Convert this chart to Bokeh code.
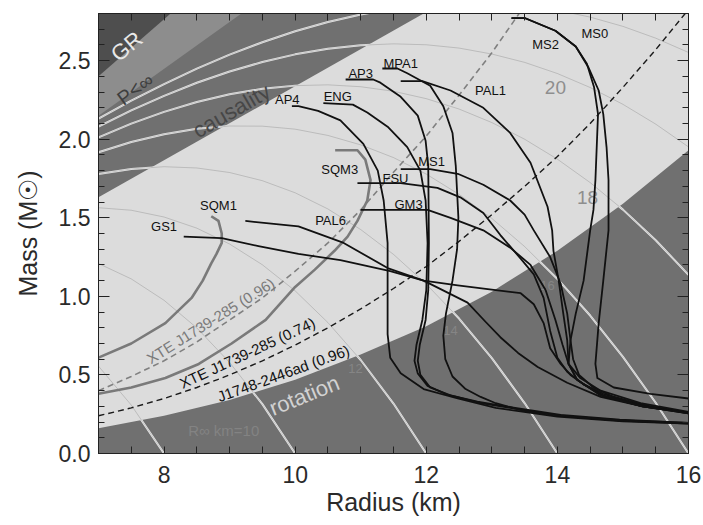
import numpy as np
from bokeh.plotting import figure
from bokeh.models import LinearAxis, FixedTicker, PrintfTickFormatter
from bokeh.embed import file_html
from bokeh.resources import INLINE
from bokeh.core.properties import value

# ---------------- data ----------------
x_major = [8, 10, 12, 14, 16]
y_major = [0.0, 0.5, 1.0, 1.5, 2.0, 2.5]

# region boundaries (R in km, M in Msun)
gr_R = [7.0, 8.1];    gr_M = [2.40, 2.80]
pinf_R = [7.0, 9.18]; pinf_M = [2.15, 2.80]
caus_R = [7.0, 11.96]; caus_M = [1.63, 2.80]
rot_R = [7, 8, 9, 10, 11, 12, 13, 14, 15, 16]
rot_M = [0.16, 0.24, 0.34, 0.47, 0.63, 0.81, 1.03, 1.29, 1.59, 1.93]

# mass-shedding lines
xte96_R = [7.0, 7.5, 8.0, 8.5, 9.0, 9.5, 10.0, 10.5, 11.0, 11.5, 12.0, 12.5, 13.0, 13.45]
xte96_M = [0.40, 0.49, 0.59, 0.71, 0.85, 0.99, 1.16, 1.34, 1.55, 1.79, 2.02, 2.28, 2.55, 2.82]
xte74_R = [7.0, 7.5, 8.0, 8.5, 9.0, 9.5, 10.0, 10.5, 11.0, 11.5, 12.0, 12.5, 13.0, 13.5, 14.0, 14.5, 15.0, 15.5, 15.95]
xte74_M = [0.24, 0.29, 0.35, 0.42, 0.50, 0.59, 0.69, 0.80, 0.92, 1.05, 1.19, 1.35, 1.52, 1.70, 1.89, 2.10, 2.33, 2.57, 2.80]

# constant R_inf contours
rinf_grid = [7.0, 7.5, 8.0, 8.5, 9.0, 9.5, 10.0, 10.5, 11.0, 11.5, 12.0, 12.5, 13.0, 13.5, 14.0, 14.5, 15.0, 15.5, 16.0]
rinf_8 = [0.556, 0.308, 0.0]
rinf_10 = [1.209, 1.111, 0.975, 0.799, 0.579, 0.314, 0.0]
rinf_12 = [1.564, 1.548, 1.505, 1.434, 1.333, 1.201, 1.035, 0.833, 0.595, 0.318, 0.0]
rinf_14 = [1.778, 1.811, 1.825, 1.817, 1.788, 1.736, 1.659, 1.556, 1.425, 1.267, 1.078, 0.859, 0.607, 0.321, 0.0]
rinf_16 = [1.917, 1.982, 2.032, 2.066, 2.084, 2.083, 2.064, 2.024, 1.964, 1.883, 1.778, 1.649, 1.496, 1.317, 1.111, 0.878, 0.615, 0.323, 0.0]
rinf_18 = [2.012, 2.099, 2.174, 2.237, 2.286, 2.321, 2.341, 2.346, 2.334, 2.305, 2.258, 2.192, 2.106, 2.000, 1.873, 1.724, 1.552, 1.357, 1.137]
rinf_20 = [2.080, 2.183, 2.276, 2.359, 2.431, 2.491, 2.540, 2.576, 2.598, 2.607, 2.601, 2.580, 2.542, 2.489, 2.418, 2.329, 2.222, 2.096, 1.951]
rinf_22 = [2.131, 2.245, 2.351, 2.449, 2.538, 2.617, 2.687, 2.746, 2.794, 2.830, 2.855, 2.867, 2.865, 2.850, 2.821, 2.777, 2.718, 2.643, 2.552]
rinf_curves = [rinf_8, rinf_10, rinf_12, rinf_14, rinf_16, rinf_18, rinf_20, rinf_22]

# equations of state
GS1_R = [8.30, 8.88, 9.44, 10.05, 10.69, 11.45, 11.96, 12.48, 13.06, 13.44, 13.64, 13.79, 13.89, 14.05, 14.20, 14.40, 14.70, 15.30, 16.00]
GS1_M = [1.38, 1.37, 1.32, 1.27, 1.23, 1.16, 1.10, 1.07, 1.04, 1.02, 0.95, 0.83, 0.67, 0.57, 0.50, 0.44, 0.38, 0.31, 0.255]
PAL6_R = [9.24, 10.05, 10.74, 11.41, 11.96, 12.63, 12.90, 13.13, 13.40, 13.70, 14.15, 14.66, 15.30, 16.00]
PAL6_M = [1.48, 1.445, 1.34, 1.18, 1.10, 0.96, 0.84, 0.74, 0.64, 0.55, 0.45, 0.36, 0.30, 0.26]
AP4_R = [9.95, 10.05, 10.35, 10.69, 11.04, 11.26, 11.35, 11.41, 11.41, 11.45, 11.61, 11.96, 12.48, 13.06, 14.00, 15.00, 16.00]
AP4_M = [2.21, 2.21, 2.18, 2.12, 1.97, 1.80, 1.61, 1.34, 0.76, 0.61, 0.51, 0.41, 0.35, 0.29, 0.235, 0.205, 0.19]
ENG_R = [10.43, 10.88, 11.10, 11.41, 11.71, 11.91, 11.99, 12.02, 12.00, 11.94, 11.85, 11.82, 11.87, 12.02, 12.32, 12.78, 13.28, 14.05, 14.95, 16.00]
ENG_M = [2.23, 2.22, 2.17, 2.08, 1.95, 1.80, 1.61, 1.34, 1.04, 0.85, 0.69, 0.59, 0.51, 0.43, 0.375, 0.33, 0.295, 0.245, 0.215, 0.195]
AP3_R = [10.77, 11.19, 11.30, 11.61, 11.87, 11.99, 12.03, 12.04, 12.03, 11.99, 11.90, 11.87, 11.91, 12.06, 12.37, 12.83, 13.28, 14.05, 14.95, 16.00]
AP3_M = [2.38, 2.38, 2.36, 2.27, 2.15, 1.99, 1.83, 1.34, 1.04, 0.85, 0.69, 0.59, 0.50, 0.42, 0.37, 0.32, 0.29, 0.24, 0.21, 0.19]
MPA1_R = [11.33, 11.56, 11.71, 12.06, 12.26, 12.40, 12.45, 12.49, 12.47, 12.40, 12.30, 12.26, 12.29, 12.40, 12.60, 12.83, 13.06, 13.50, 14.20, 15.00, 16.00]
MPA1_M = [2.45, 2.45, 2.42, 2.34, 2.21, 2.04, 1.83, 1.50, 1.30, 1.10, 0.89, 0.75, 0.60, 0.49, 0.41, 0.36, 0.32, 0.27, 0.235, 0.21, 0.195]
PAL1_R = [11.61, 11.94, 12.37, 12.87, 13.28, 13.59, 13.85, 13.92, 13.94, 14.02, 14.09, 14.15, 14.17, 14.30, 14.66, 15.30, 16.00]
PAL1_M = [2.37, 2.37, 2.31, 2.20, 2.04, 1.85, 1.57, 1.42, 1.29, 1.10, 0.89, 0.72, 0.57, 0.47, 0.37, 0.30, 0.255]
MS1_R = [11.61, 12.06, 12.48, 12.87, 13.28, 13.50, 13.64, 13.89, 14.05, 14.15, 14.20, 14.24, 14.33, 14.55, 14.85, 15.40, 16.00]
MS1_M = [1.81, 1.81, 1.78, 1.71, 1.61, 1.52, 1.42, 1.25, 1.08, 0.89, 0.72, 0.60, 0.50, 0.42, 0.36, 0.30, 0.26]
FSU_R = [10.95, 11.61, 12.17, 12.52, 12.87, 13.13, 13.44, 13.64, 13.79, 13.89, 14.00, 14.15, 14.40, 14.70, 15.30, 16.00]
FSU_M = [1.72, 1.72, 1.69, 1.63, 1.53, 1.39, 1.24, 1.14, 0.99, 0.78, 0.61, 0.52, 0.44, 0.37, 0.30, 0.26]
GM3_R = [11.00, 11.45, 12.02, 12.37, 12.87, 13.28, 13.59, 13.82, 13.97, 14.08, 14.17, 14.35, 14.66, 15.27, 16.00]
GM3_M = [1.55, 1.55, 1.55, 1.50, 1.42, 1.31, 1.20, 1.04, 0.85, 0.69, 0.57, 0.48, 0.40, 0.32, 0.265]
MS2_R = [13.30, 13.51, 13.97, 14.28, 14.45, 14.56, 14.62, 14.60, 14.58, 14.55, 14.50, 14.40, 14.28, 14.20, 14.17, 14.30, 14.66, 15.30, 16.00]
MS2_M = [2.77, 2.77, 2.69, 2.59, 2.48, 2.33, 2.16, 1.95, 1.74, 1.55, 1.42, 1.10, 0.89, 0.72, 0.57, 0.47, 0.37, 0.30, 0.255]
MS0_R = [13.30, 13.51, 13.97, 14.28, 14.47, 14.63, 14.70, 14.75, 14.78, 14.78, 14.70, 14.63, 14.58, 14.61, 14.86, 15.42, 16.00]
MS0_M = [2.77, 2.77, 2.69, 2.59, 2.46, 2.31, 2.16, 1.95, 1.74, 1.42, 1.10, 0.83, 0.57, 0.48, 0.42, 0.38, 0.35]
SQM1_R = [8.72, 8.83, 8.88, 8.88, 8.80, 8.72, 8.59, 8.42, 8.02, 7.50, 7.00]
SQM1_M = [1.51, 1.48, 1.40, 1.34, 1.27, 1.21, 1.10, 0.99, 0.83, 0.70, 0.61]
SQM3_R = [10.61, 10.95, 11.07, 11.15, 11.10, 10.95, 10.80, 10.60, 10.30, 10.00, 9.55, 9.03, 8.53, 8.02, 7.50, 7.00]
SQM3_M = [1.93, 1.93, 1.87, 1.74, 1.61, 1.48, 1.38, 1.29, 1.17, 1.06, 0.85, 0.70, 0.57, 0.48, 0.42, 0.38]

eos_black = [(GS1_R, GS1_M), (PAL6_R, PAL6_M), (AP4_R, AP4_M), (ENG_R, ENG_M), (AP3_R, AP3_M),
             (MPA1_R, MPA1_M), (PAL1_R, PAL1_M), (MS1_R, MS1_M), (FSU_R, FSU_M), (GM3_R, GM3_M),
             (MS2_R, MS2_M), (MS0_R, MS0_M)]
eos_gray = [(SQM1_R, SQM1_M), (SQM3_R, SQM3_M)]

eos_labels = ["GS1", "SQM1", "PAL6", "AP4", "ENG", "AP3", "MPA1", "PAL1", "MS2", "MS0", "MS1", "FSU", "GM3", "SQM3"]
eos_label_R = [8.00, 8.83, 10.54, 9.88, 10.65, 11.00, 11.61, 12.98, 13.82, 14.57, 12.08, 11.53, 11.73, 10.68]
eos_label_M = [1.445, 1.58, 1.48, 2.25, 2.27, 2.42, 2.48, 2.31, 2.60, 2.67, 1.86, 1.75, 1.585, 1.81]

# ---------------- figure ----------------
FONT = "Liberation Sans"

p = figure(width=703, height=525, x_range=(7, 16), y_range=(0, 2.8),
           output_backend="svg", toolbar_location=None,
           min_border_left=98, min_border_right=15, min_border_top=13, min_border_bottom=72,
           background_fill_color="#707070", border_fill_color="white")
p.xgrid.visible = False
p.ygrid.visible = False
p.outline_line_color = "#222222"
p.outline_line_width = 1

x_minor = [v for v in np.arange(7.0, 16.01, 0.5) if v not in x_major]
y_minor = [round(v, 2) for v in np.arange(0.0, 2.801, 0.1)]
xt = FixedTicker(ticks=x_major, minor_ticks=x_minor)
yt = FixedTicker(ticks=y_major, minor_ticks=y_minor)

def style_axis(ax, major_len, minor_len, labels=True):
    ax.major_tick_in = major_len
    ax.major_tick_out = 0
    ax.minor_tick_in = minor_len
    ax.minor_tick_out = 0
    ax.major_tick_line_color = "#222222"
    ax.minor_tick_line_color = "#222222"
    ax.axis_line_color = "#222222"
    if labels:
        ax.major_label_text_font = FONT
        ax.major_label_text_font_size = "23px"
        ax.major_label_text_color = "#2a2a2a"
        ax.axis_label_text_font = FONT
        ax.axis_label_text_font_size = "25px"
        ax.axis_label_text_font_style = "normal"
        ax.axis_label_text_color = "#2a2a2a"
    else:
        ax.major_label_text_font_size = "1px"
        ax.major_label_text_alpha = 0
        ax.major_label_standoff = 0

xa = p.xaxis[0]
xa.ticker = xt
xa.axis_label = "Radius (km)"
style_axis(xa, 7, 7)
xa.major_label_standoff = 12
xa.axis_label_standoff = 2

ya = p.yaxis[0]
ya.ticker = yt
ya.formatter = PrintfTickFormatter(format="%.1f")
ya.axis_label = "Mass (M\u2609)"
style_axis(ya, 11, 6)
ya.major_label_standoff = 8
ya.axis_label_standoff = 14

top = LinearAxis(ticker=xt)
style_axis(top, 7, 7, labels=False)
p.add_layout(top, "above")
right = LinearAxis(ticker=yt)
style_axis(right, 11, 6, labels=False)
p.add_layout(right, "right")

# ---- regions ----
# white contours on the dark background
for m in rinf_curves:
    p.line(rinf_grid[:len(m)], m, line_color="#e8e8e8", line_width=2.0)

# light allowed region (between causality line and rotation curve)
light_x = [caus_R[0], caus_R[1], caus_R[1], 16.5, 16.5] + rot_R[::-1] + [6.5, 6.5]
light_y = [caus_M[0], caus_M[1], 3.3, 3.3, rot_M[-1]] + rot_M[::-1] + [rot_M[0], caus_M[0]]
p.patch(light_x, light_y, fill_color="#dcdcdc", line_color=None)

# thin grey contour overlay
for m in rinf_curves:
    p.line(rinf_grid[:len(m)], m, line_color="black", line_alpha=0.15, line_width=1.0)

# P<inf band and GR region
p.patch([pinf_R[0], pinf_R[1], pinf_R[1], 6.5, 6.5], [pinf_M[0], pinf_M[1], 3.3, 3.3, pinf_M[0]],
        fill_color="#8d8d8d", line_color=None)
p.patch([gr_R[0], gr_R[1], gr_R[1], 6.5, 6.5], [gr_M[0], gr_M[1], 3.3, 3.3, gr_M[0]],
        fill_color="#4e4e4e", line_color=None)

# region texts
p.text(x=[7.43], y=[2.59], text=["GR"], angle=[np.radians(40)], text_color="#e8e8e8",
       text_font=value(FONT), text_font_size="22px", text_align="center", text_baseline="middle")
p.text(x=[7.56], y=[2.32], text=["P<\u221e"], angle=[np.radians(36)], text_color="#3e3e3e",
       text_font=value(FONT), text_font_size="20px", text_align="center", text_baseline="middle")
p.text(x=[9.03], y=[2.18], text=["causality"], angle=[np.radians(30)], text_color="#474747",
       text_font=value(FONT), text_font_size="22px", text_align="center", text_baseline="middle")
p.text(x=[10.14], y=[0.37], text=["rotation"], angle=[np.radians(22)], text_color="#d2d2d2",
       text_font=value(FONT), text_font_size="22px", text_align="center", text_baseline="middle")

# R_inf labels
p.text(x=[13.97, 14.46], y=[2.33, 1.63], text=["20", "18"], text_color="#8e8e8e",
       text_font=value(FONT), text_font_size="19px", text_align="center", text_baseline="middle")
p.text(x=[13.85, 12.37, 10.92], y=[1.07, 0.78, 0.54], text=["16", "14", "12"], text_color="#858585",
       text_font=value(FONT), text_font_size="13px", text_align="center", text_baseline="middle")
p.text(x=[8.91], y=[0.146], text=["R\u221e km=10"], text_color="#838383",
       text_font=value(FONT), text_font_size="15px", text_align="center", text_baseline="middle")

# mass-shedding lines
p.line(xte96_R, xte96_M, line_color="#808080", line_width=1.6, line_dash="6 4")
p.line(xte74_R, xte74_M, line_color="#1a1a1a", line_width=1.4, line_dash="6 4")

p.text(x=[8.71], y=[0.845], text=["XTE J1739-285 (0.96)"], angle=[np.radians(32)], text_color="#7a7a7a",
       text_font=value(FONT), text_font_size="15px", text_align="center", text_baseline="middle")
p.text(x=[9.27], y=[0.64], text=["XTE J1739-285 (0.74)"], angle=[np.radians(25)], text_color="#111111",
       text_font=value(FONT), text_font_size="15px", text_align="center", text_baseline="middle")
p.text(x=[9.82], y=[0.51], text=["J1748-2446ad (0.96)"], angle=[np.radians(20)], text_color="#111111",
       text_font=value(FONT), text_font_size="15px", text_align="center", text_baseline="middle")

# EOS curves
for r, m in eos_gray:
    p.line(r, m, line_color="#7a7a7a", line_width=2.6, line_join="round")
for r, m in eos_black:
    p.line(r, m, line_color="#111111", line_width=1.8, line_join="round")

p.text(x=eos_label_R, y=eos_label_M, text=eos_labels, text_color="#111111",
       text_font=value(FONT), text_font_size="13px", text_align="center", text_baseline="middle")

open("out.html", "w").write(file_html(p, INLINE))
